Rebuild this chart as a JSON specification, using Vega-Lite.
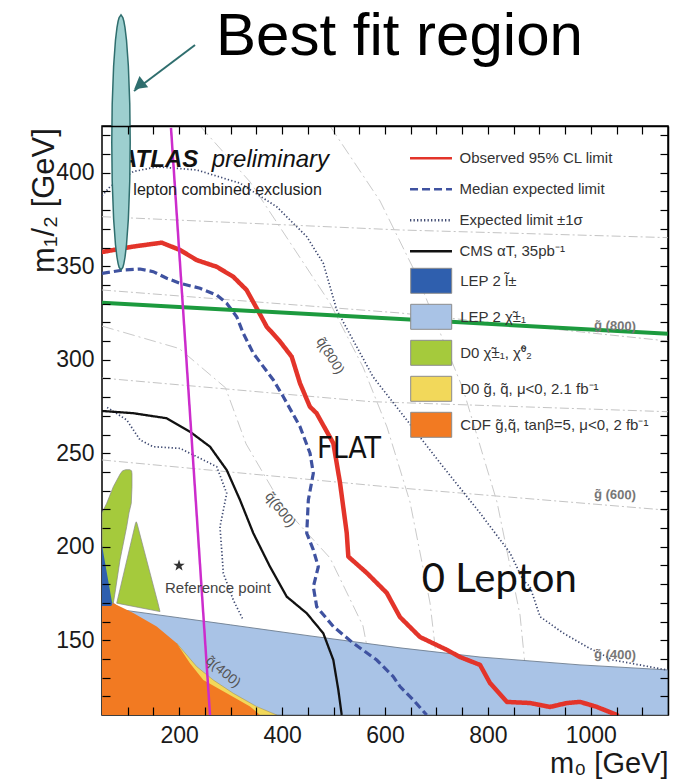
{
  "$schema": "https://vega.github.io/schema/vega-lite/v6.json",
  "width": 566,
  "height": 589,
  "autosize": {"type": "none"},
  "padding": {"left": 102, "top": 126, "right": 13, "bottom": 66},
  "background": "white",
  "config": {
    "view": {"stroke": "#000", "strokeWidth": 1.5, "fill": "white"},
    "axis": {"grid": false},
    "font": "Liberation Sans"
  },
  "resolve": {"axis": {"x": "independent", "y": "independent"}},
  "datasets": {
    "gcont": [
      {"c": "g1000", "m0": 50, "m12": 376.5}, {"c": "g1000", "m0": 629, "m12": 369.4}, {"c": "g1000", "m0": 1150, "m12": 365.3},
      {"c": "g800", "m0": 50, "m12": 337.3}, {"c": "g800", "m0": 629, "m12": 325}, {"c": "g800", "m0": 1150, "m12": 310},
      {"c": "g700", "m0": 50, "m12": 290.2}, {"c": "g700", "m0": 571, "m12": 277.6}, {"c": "g700", "m0": 1150, "m12": 272.2},
      {"c": "g600", "m0": 50, "m12": 246.4}, {"c": "g600", "m0": 629, "m12": 231.4}, {"c": "g600", "m0": 1150, "m12": 219.5}
    ],
    "qcont": [
      {"c": "q800", "i": 0, "m0": 240.5, "m12": 425}, {"c": "q800", "i": 1, "m0": 337.7, "m12": 395.1}, {"c": "q800", "i": 2, "m0": 493.1, "m12": 330.3}, {"c": "q800", "i": 3, "m0": 557.3, "m12": 296.1}, {"c": "q800", "i": 4, "m0": 603.9, "m12": 264}, {"c": "q800", "i": 5, "m0": 648.6, "m12": 223.9}, {"c": "q800", "i": 6, "m0": 687.5, "m12": 169.9}, {"c": "q800", "i": 7, "m0": 712.8, "m12": 110},
      {"c": "q600", "i": 0, "m0": 50, "m12": 318}, {"c": "q600", "i": 1, "m0": 200, "m12": 306}, {"c": "q600", "i": 2, "m0": 290, "m12": 285}, {"c": "q600", "i": 3, "m0": 330, "m12": 255}, {"c": "q600", "i": 4, "m0": 400, "m12": 222}, {"c": "q600", "i": 5, "m0": 493.1, "m12": 194}, {"c": "q600", "i": 6, "m0": 557.3, "m12": 157.6}, {"c": "q600", "i": 7, "m0": 590.3, "m12": 110},
      {"c": "q1000", "i": 0, "m0": 493.1, "m12": 425}, {"c": "q1000", "i": 1, "m0": 590.3, "m12": 384.9}, {"c": "q1000", "i": 2, "m0": 662.2, "m12": 344.8}, {"c": "q1000", "i": 3, "m0": 751.6, "m12": 284.4}, {"c": "q1000", "i": 4, "m0": 817.7, "m12": 223.9}, {"c": "q1000", "i": 5, "m0": 862.4, "m12": 163.5}, {"c": "q1000", "i": 6, "m0": 881.9, "m12": 110}
    ],
    "lepchi": [
      {"region": "LEP 2 χ̃±₁", "m0": 72, "m12": 169.8}, {"region": "LEP 2 χ̃±₁", "m0": 88.9, "m12": 166.2}, {"region": "LEP 2 χ̃±₁", "m0": 200, "m12": 162.0}, {"region": "LEP 2 χ̃±₁", "m0": 300, "m12": 158.2}, {"region": "LEP 2 χ̃±₁", "m0": 454.3, "m12": 152.3}, {"region": "LEP 2 χ̃±₁", "m0": 629.2, "m12": 145.9}, {"region": "LEP 2 χ̃±₁", "m0": 784.7, "m12": 141}, {"region": "LEP 2 χ̃±₁", "m0": 979, "m12": 136.8}, {"region": "LEP 2 χ̃±₁", "m0": 1150, "m12": 134.1}
    ],
    "d0chi": [
      {"region": "D0 χ̃±₁, χ̃⁰₂", "lobe": "a", "m12": 169.8, "xl": 50, "xr": 72},
      {"region": "D0 χ̃±₁, χ̃⁰₂", "lobe": "a", "m12": 175.3, "xl": 50, "xr": 75.3},
      {"region": "D0 χ̃±₁, χ̃⁰₂", "lobe": "a", "m12": 192.9, "xl": 50, "xr": 85},
      {"region": "D0 χ̃±₁, χ̃⁰₂", "lobe": "a", "m12": 210.7, "xl": 50, "xr": 98},
      {"region": "D0 χ̃±₁, χ̃⁰₂", "lobe": "a", "m12": 218.1, "xl": 50, "xr": 102.5},
      {"region": "D0 χ̃±₁, χ̃⁰₂", "lobe": "a", "m12": 223.2, "xl": 59.1, "xr": 106.9},
      {"region": "D0 χ̃±₁, χ̃⁰₂", "lobe": "a", "m12": 232.1, "xl": 72, "xr": 108.3},
      {"region": "D0 χ̃±₁, χ̃⁰₂", "lobe": "a", "m12": 239.0, "xl": 85.5, "xr": 108.3},
      {"region": "D0 χ̃±₁, χ̃⁰₂", "lobe": "a", "m12": 240.6, "xl": 90, "xr": 107.5},
      {"region": "D0 χ̃±₁, χ̃⁰₂", "lobe": "a", "m12": 241.2, "xl": 96, "xr": 104},
      {"region": "D0 χ̃±₁, χ̃⁰₂", "lobe": "b", "m12": 165.3, "xl": 162.7, "xr": 162.7},
      {"region": "D0 χ̃±₁, χ̃⁰₂", "lobe": "b", "m12": 167.5, "xl": 121.6, "xr": 160.8},
      {"region": "D0 χ̃±₁, χ̃⁰₂", "lobe": "b", "m12": 169.8, "xl": 78.6, "xr": 158.8},
      {"region": "D0 χ̃±₁, χ̃⁰₂", "lobe": "b", "m12": 186, "xl": 92.4, "xr": 143.3},
      {"region": "D0 χ̃±₁, χ̃⁰₂", "lobe": "b", "m12": 212.5, "xl": 115.1, "xr": 118},
      {"region": "D0 χ̃±₁, χ̃⁰₂", "lobe": "b", "m12": 213.3, "xl": 116.5, "xr": 116.6}
    ],
    "d0sq": [
      {"region": "D0 g̃, q̃, μ<0, 2.1 fb⁻¹", "m0": 195.2, "m12": 148.4}, {"region": "D0 g̃, q̃, μ<0, 2.1 fb⁻¹", "m0": 234, "m12": 135.9}, {"region": "D0 g̃, q̃, μ<0, 2.1 fb⁻¹", "m0": 266.3, "m12": 128.7}, {"region": "D0 g̃, q̃, μ<0, 2.1 fb⁻¹", "m0": 305.2, "m12": 121.6}, {"region": "D0 g̃, q̃, μ<0, 2.1 fb⁻¹", "m0": 350.7, "m12": 114.5}, {"region": "D0 g̃, q̃, μ<0, 2.1 fb⁻¹", "m0": 389.6, "m12": 110}
    ],
    "cdf": [
      {"region": "CDF g̃,q̃, tanβ=5, μ<0, 2 fb⁻¹", "m0": 50, "m12": 168.3}, {"region": "CDF g̃,q̃, tanβ=5, μ<0, 2 fb⁻¹", "m0": 72, "m12": 169.8}, {"region": "CDF g̃,q̃, tanβ=5, μ<0, 2 fb⁻¹", "m0": 110.8, "m12": 164.6}, {"region": "CDF g̃,q̃, tanβ=5, μ<0, 2 fb⁻¹", "m0": 156.3, "m12": 157.3}, {"region": "CDF g̃,q̃, tanβ=5, μ<0, 2 fb⁻¹", "m0": 195.2, "m12": 148.4}, {"region": "CDF g̃,q̃, tanβ=5, μ<0, 2 fb⁻¹", "m0": 221, "m12": 137.7}, {"region": "CDF g̃,q̃, tanβ=5, μ<0, 2 fb⁻¹", "m0": 246.9, "m12": 128.7}, {"region": "CDF g̃,q̃, tanβ=5, μ<0, 2 fb⁻¹", "m0": 292.4, "m12": 121.6}, {"region": "CDF g̃,q̃, tanβ=5, μ<0, 2 fb⁻¹", "m0": 337.7, "m12": 114.5}, {"region": "CDF g̃,q̃, tanβ=5, μ<0, 2 fb⁻¹", "m0": 357.1, "m12": 110}
    ],
    "lepsl": [
      {"region": "LEP 2 l̃±", "m12": 168.3, "xl": 50, "xr": 68},
      {"region": "LEP 2 l̃±", "m12": 169.5, "xl": 50, "xr": 70},
      {"region": "LEP 2 l̃±", "m12": 187.6, "xl": 50, "xr": 58.4},
      {"region": "LEP 2 l̃±", "m12": 200.9, "xl": 50, "xr": 50}
    ],
    "limits": [
      {"curve": "Observed 95% CL limit", "part": "a", "i": 0, "m0": 50, "m12": 357.6},
      {"curve": "Observed 95% CL limit", "part": "a", "i": 1, "m0": 110.3, "m12": 360.5},
      {"curve": "Observed 95% CL limit", "part": "a", "i": 2, "m0": 166, "m12": 362.6},
      {"curve": "Observed 95% CL limit", "part": "a", "i": 3, "m0": 201.6, "m12": 358.7},
      {"curve": "Observed 95% CL limit", "part": "a", "i": 4, "m0": 234, "m12": 353.3},
      {"curve": "Observed 95% CL limit", "part": "a", "i": 5, "m0": 273, "m12": 349.7},
      {"curve": "Observed 95% CL limit", "part": "a", "i": 6, "m0": 305, "m12": 344.4},
      {"curve": "Observed 95% CL limit", "part": "a", "i": 7, "m0": 331, "m12": 337.3},
      {"curve": "Observed 95% CL limit", "part": "a", "i": 8, "m0": 350.7, "m12": 327.5},
      {"curve": "Observed 95% CL limit", "part": "a", "i": 9, "m0": 370, "m12": 317.7},
      {"curve": "Observed 95% CL limit", "part": "a", "i": 10, "m0": 396, "m12": 309.7},
      {"curve": "Observed 95% CL limit", "part": "a", "i": 11, "m0": 418.7, "m12": 301.6},
      {"curve": "Observed 95% CL limit", "part": "a", "i": 12, "m0": 434.8, "m12": 287.4},
      {"curve": "Observed 95% CL limit", "part": "a", "i": 13, "m0": 454, "m12": 274.9},
      {"curve": "Observed 95% CL limit", "part": "a", "i": 14, "m0": 467, "m12": 271.4},
      {"curve": "Observed 95% CL limit", "part": "a", "i": 15, "m0": 499.6, "m12": 255.3},
      {"curve": "Observed 95% CL limit", "part": "a", "i": 16, "m0": 512.6, "m12": 234.1},
      {"curve": "Observed 95% CL limit", "part": "a", "i": 17, "m0": 525.6, "m12": 207.4},
      {"curve": "Observed 95% CL limit", "part": "a", "i": 18, "m0": 528.7, "m12": 194.7},
      {"curve": "Observed 95% CL limit", "part": "a", "i": 19, "m0": 564.5, "m12": 186},
      {"curve": "Observed 95% CL limit", "part": "a", "i": 20, "m0": 603.4, "m12": 175.3},
      {"curve": "Observed 95% CL limit", "part": "a", "i": 21, "m0": 629, "m12": 162.4},
      {"curve": "Observed 95% CL limit", "part": "a", "i": 22, "m0": 668, "m12": 151.7},
      {"curve": "Observed 95% CL limit", "part": "a", "i": 23, "m0": 720.5, "m12": 144.8},
      {"curve": "Observed 95% CL limit", "part": "a", "i": 24, "m0": 745.8, "m12": 141},
      {"curve": "Observed 95% CL limit", "part": "a", "i": 25, "m0": 784.7, "m12": 136.8},
      {"curve": "Observed 95% CL limit", "part": "a", "i": 26, "m0": 804, "m12": 127.1},
      {"curve": "Observed 95% CL limit", "part": "a", "i": 27, "m0": 837, "m12": 117},
      {"curve": "Observed 95% CL limit", "part": "a", "i": 28, "m0": 882, "m12": 116.4},
      {"curve": "Observed 95% CL limit", "part": "a", "i": 29, "m0": 920.7, "m12": 114.3},
      {"curve": "Observed 95% CL limit", "part": "a", "i": 30, "m0": 953.8, "m12": 116.4},
      {"curve": "Observed 95% CL limit", "part": "a", "i": 31, "m0": 979, "m12": 117},
      {"curve": "Observed 95% CL limit", "part": "a", "i": 32, "m0": 1012, "m12": 114.3},
      {"curve": "Observed 95% CL limit", "part": "a", "i": 33, "m0": 1051, "m12": 110},
      {"curve": "Median expected limit", "part": "a", "i": 0, "m0": 50, "m12": 346.2},
      {"curve": "Median expected limit", "part": "a", "i": 1, "m0": 91.4, "m12": 348},
      {"curve": "Median expected limit", "part": "a", "i": 2, "m0": 123.9, "m12": 348.5},
      {"curve": "Median expected limit", "part": "a", "i": 3, "m0": 149.7, "m12": 347.1},
      {"curve": "Median expected limit", "part": "a", "i": 4, "m0": 175.8, "m12": 343.6},
      {"curve": "Median expected limit", "part": "a", "i": 5, "m0": 201.6, "m12": 340.9},
      {"curve": "Median expected limit", "part": "a", "i": 6, "m0": 240.5, "m12": 338.2},
      {"curve": "Median expected limit", "part": "a", "i": 7, "m0": 272.9, "m12": 334.6},
      {"curve": "Median expected limit", "part": "a", "i": 8, "m0": 292.4, "m12": 330.2},
      {"curve": "Median expected limit", "part": "a", "i": 9, "m0": 311.8, "m12": 323},
      {"curve": "Median expected limit", "part": "a", "i": 10, "m0": 324.6, "m12": 314.1},
      {"curve": "Median expected limit", "part": "a", "i": 11, "m0": 344, "m12": 303.5},
      {"curve": "Median expected limit", "part": "a", "i": 12, "m0": 363.5, "m12": 296.3},
      {"curve": "Median expected limit", "part": "a", "i": 13, "m0": 383, "m12": 289.2},
      {"curve": "Median expected limit", "part": "a", "i": 14, "m0": 402.4, "m12": 280.2},
      {"curve": "Median expected limit", "part": "a", "i": 15, "m0": 434.8, "m12": 264.2},
      {"curve": "Median expected limit", "part": "a", "i": 16, "m0": 454.3, "m12": 250},
      {"curve": "Median expected limit", "part": "a", "i": 17, "m0": 460.7, "m12": 239.3},
      {"curve": "Median expected limit", "part": "a", "i": 18, "m0": 451, "m12": 225},
      {"curve": "Median expected limit", "part": "a", "i": 19, "m0": 447.9, "m12": 207.2},
      {"curve": "Median expected limit", "part": "a", "i": 20, "m0": 460.7, "m12": 198.3},
      {"curve": "Median expected limit", "part": "a", "i": 21, "m0": 470.4, "m12": 189.3},
      {"curve": "Median expected limit", "part": "a", "i": 22, "m0": 460.7, "m12": 178.6},
      {"curve": "Median expected limit", "part": "a", "i": 23, "m0": 467.3, "m12": 167.9},
      {"curve": "Median expected limit", "part": "a", "i": 24, "m0": 499.6, "m12": 157.3},
      {"curve": "Median expected limit", "part": "a", "i": 25, "m0": 538.4, "m12": 148.4},
      {"curve": "Median expected limit", "part": "a", "i": 26, "m0": 584, "m12": 139.4},
      {"curve": "Median expected limit", "part": "a", "i": 27, "m0": 616.2, "m12": 130.5},
      {"curve": "Median expected limit", "part": "a", "i": 28, "m0": 629.2, "m12": 125.2},
      {"curve": "Median expected limit", "part": "a", "i": 29, "m0": 655, "m12": 118.1},
      {"curve": "Median expected limit", "part": "a", "i": 30, "m0": 681, "m12": 110},
      {"curve": "Expected limit ±1σ", "part": "up", "i": 0, "m0": 50, "m12": 387.6},
      {"curve": "Expected limit ±1σ", "part": "up", "i": 1, "m0": 65.5, "m12": 392.5},
      {"curve": "Expected limit ±1σ", "part": "up", "i": 2, "m0": 110.8, "m12": 400.6},
      {"curve": "Expected limit ±1σ", "part": "up", "i": 3, "m0": 156.3, "m12": 403.2},
      {"curve": "Expected limit ±1σ", "part": "up", "i": 4, "m0": 234, "m12": 401.5},
      {"curve": "Expected limit ±1σ", "part": "up", "i": 5, "m0": 318.2, "m12": 394.4},
      {"curve": "Expected limit ±1σ", "part": "up", "i": 6, "m0": 389.6, "m12": 381.8},
      {"curve": "Expected limit ±1σ", "part": "up", "i": 7, "m0": 447.9, "m12": 365.8},
      {"curve": "Expected limit ±1σ", "part": "up", "i": 8, "m0": 480.1, "m12": 351.6},
      {"curve": "Expected limit ±1σ", "part": "up", "i": 9, "m0": 506.2, "m12": 326.6},
      {"curve": "Expected limit ±1σ", "part": "up", "i": 10, "m0": 576.7, "m12": 290.9},
      {"curve": "Expected limit ±1σ", "part": "up", "i": 11, "m0": 712.8, "m12": 242.8},
      {"curve": "Expected limit ±1σ", "part": "up", "i": 12, "m0": 784.7, "m12": 218},
      {"curve": "Expected limit ±1σ", "part": "up", "i": 13, "m0": 843, "m12": 196.7},
      {"curve": "Expected limit ±1σ", "part": "up", "i": 14, "m0": 868.3, "m12": 182.2},
      {"curve": "Expected limit ±1σ", "part": "up", "i": 15, "m0": 881.9, "m12": 178.6},
      {"curve": "Expected limit ±1σ", "part": "up", "i": 16, "m0": 901.3, "m12": 162.6},
      {"curve": "Expected limit ±1σ", "part": "up", "i": 17, "m0": 946, "m12": 153.9},
      {"curve": "Expected limit ±1σ", "part": "up", "i": 18, "m0": 992.7, "m12": 146.4},
      {"curve": "Expected limit ±1σ", "part": "up", "i": 19, "m0": 1043.2, "m12": 139.4},
      {"curve": "Expected limit ±1σ", "part": "up", "i": 20, "m0": 1148, "m12": 134.1},
      {"curve": "Expected limit ±1σ", "part": "lo", "i": 0, "m0": 60, "m12": 274.5},
      {"curve": "Expected limit ±1σ", "part": "lo", "i": 1, "m0": 98, "m12": 267.8},
      {"curve": "Expected limit ±1σ", "part": "lo", "i": 2, "m0": 123.9, "m12": 257.1},
      {"curve": "Expected limit ±1σ", "part": "lo", "i": 3, "m0": 149.1, "m12": 253.5},
      {"curve": "Expected limit ±1σ", "part": "lo", "i": 4, "m0": 201.6, "m12": 252.6},
      {"curve": "Expected limit ±1σ", "part": "lo", "i": 5, "m0": 240.5, "m12": 247.3},
      {"curve": "Expected limit ±1σ", "part": "lo", "i": 6, "m0": 272.9, "m12": 242.8},
      {"curve": "Expected limit ±1σ", "part": "lo", "i": 7, "m0": 292.4, "m12": 228.6},
      {"curve": "Expected limit ±1σ", "part": "lo", "i": 8, "m0": 279.3, "m12": 210.7},
      {"curve": "Expected limit ±1σ", "part": "lo", "i": 9, "m0": 285.8, "m12": 185.8},
      {"curve": "Expected limit ±1σ", "part": "lo", "i": 10, "m0": 305.2, "m12": 171.5},
      {"curve": "Expected limit ±1σ", "part": "lo", "i": 11, "m0": 324.6, "m12": 160.7},
      {"curve": "CMS αT, 35pb⁻¹", "part": "a", "i": 0, "m0": 50, "m12": 272.6},
      {"curve": "CMS αT, 35pb⁻¹", "part": "a", "i": 1, "m0": 110.8, "m12": 271.4},
      {"curve": "CMS αT, 35pb⁻¹", "part": "a", "i": 2, "m0": 175.8, "m12": 268.7},
      {"curve": "CMS αT, 35pb⁻¹", "part": "a", "i": 3, "m0": 221, "m12": 261.5},
      {"curve": "CMS αT, 35pb⁻¹", "part": "a", "i": 4, "m0": 259.9, "m12": 253.5},
      {"curve": "CMS αT, 35pb⁻¹", "part": "a", "i": 5, "m0": 292.4, "m12": 241},
      {"curve": "CMS αT, 35pb⁻¹", "part": "a", "i": 6, "m0": 318.2, "m12": 225},
      {"curve": "CMS αT, 35pb⁻¹", "part": "a", "i": 7, "m0": 344.1, "m12": 207.2},
      {"curve": "CMS αT, 35pb⁻¹", "part": "a", "i": 8, "m0": 376.5, "m12": 189.3},
      {"curve": "CMS αT, 35pb⁻¹", "part": "a", "i": 9, "m0": 409, "m12": 173.3},
      {"curve": "CMS αT, 35pb⁻¹", "part": "a", "i": 10, "m0": 447.9, "m12": 164.4},
      {"curve": "CMS αT, 35pb⁻¹", "part": "a", "i": 11, "m0": 480.1, "m12": 153.7},
      {"curve": "CMS αT, 35pb⁻¹", "part": "a", "i": 12, "m0": 499.6, "m12": 139.4},
      {"curve": "CMS αT, 35pb⁻¹", "part": "a", "i": 13, "m0": 509.3, "m12": 123.4},
      {"curve": "CMS αT, 35pb⁻¹", "part": "a", "i": 14, "m0": 515.9, "m12": 110}
    ],
    "greenline": [{"m0": 50, "m12": 330.5}, {"m0": 1150, "m12": 313.9}],
    "magline": [{"m0": 184.1, "m12": 424}, {"m0": 259.9, "m12": 110}],
    "ellipse": [
      {"m12": 484.4, "xl": 86.9, "xr": 86.9}, {"m12": 483.0, "xl": 83.34, "xr": 90.46}, {"m12": 481.0, "xl": 81.31, "xr": 92.49}, {"m12": 477.6, "xl": 79.1, "xr": 94.7}, {"m12": 470.8, "xl": 76.16, "xr": 97.64}, {"m12": 457.1, "xl": 72.58, "xr": 101.22}, {"m12": 436.7, "xl": 69.82, "xr": 103.98}, {"m12": 416.2, "xl": 69.0, "xr": 104.8}, {"m12": 395.7, "xl": 69.82, "xr": 103.98}, {"m12": 375.3, "xl": 72.58, "xr": 101.22}, {"m12": 361.6, "xl": 76.16, "xr": 97.64}, {"m12": 354.8, "xl": 79.1, "xr": 94.7}, {"m12": 351.4, "xl": 81.31, "xr": 92.49}, {"m12": 349.4, "xl": 83.34, "xr": 90.46}, {"m12": 348.0, "xl": 86.9, "xr": 86.9}
    ],
    "arrow": [{"i": 0, "m0": 230.8, "m12": 468.3}, {"i": 1, "m0": 112.2, "m12": 443.7}],
    "arrowhead": [{"m0": 121.9, "m12": 446.7}],
    "tBig": [{"t": "Best fit region", "m0": 271.6, "m12": 463.0}],
    "tAtlas": [{"t": "ATLAS", "m0": 85, "m12": 403.2}],
    "tPrelim": [{"t": "preliminary", "m0": 263.2, "m12": 403.2}],
    "tSub": [{"t": "0 lepton combined exclusion", "m0": 85, "m12": 388.1}],
    "tFlat": [{"t": "FLAT", "m0": 530.1, "m12": 247.2}],
    "t0L": [{"t": "0 Lepton", "m0": 671.4, "m12": 176.0}],
    "tRef": [{"t": "Reference point", "m0": 172.4, "m12": 175.3}],
    "star": [{"m0": 199.7, "m12": 189.9}],
    "q800": [{"t": "q̃(800)", "m0": 493.1, "m12": 302.0}],
    "q600": [{"t": "q̃(600)", "m0": 396, "m12": 219.7}],
    "q400": [{"t": "q̃(400)", "m0": 285.2, "m12": 133}],
    "glab": [{"t": "g̃ (800)", "m0": 1047.1, "m12": 318.0}, {"t": "g̃ (600)", "m0": 1047.1, "m12": 227.7}, {"t": "g̃ (400)", "m0": 1047.1, "m12": 142.1}]
  },
  "layer": [
    {
      "data": {"name": "gcont"},
      "mark": {"type": "line", "stroke": "#c4c4c4", "strokeWidth": 1, "strokeDash": [9, 3, 2, 3], "clip": true},
      "encoding": {
        "x": {"field": "m0", "type": "quantitative", "scale": {"domain": [50, 1150], "nice": false, "zero": false},
          "axis": {"orient": "bottom", "values": [100, 150, 200, 250, 300, 350, 400, 450, 500, 550, 600, 650, 700, 750, 800, 850, 900, 950, 1000, 1050, 1100], "format": "d", "labelExpr": "datum.value % 200 == 0 ? datum.label : ''", "ticks": true, "tickSize": -8, "tickColor": "#000", "tickWidth": 1.2, "domain": false, "grid": false, "labelFont": "Liberation Sans", "labelFontSize": 23, "labelColor": "#1a1a1a", "labelPadding": 17, "labelFlush": false, "labelOverlap": false, "zindex": 2,
            "encode": {"ticks": {"update": {"y2": {"signal": "datum.value % 200 == 0 ? -17 : -8"}}}},
            "title": "m₀ [GeV]", "titleFont": "Liberation Sans", "titleFontSize": 29, "titleFontWeight": "normal", "titleColor": "#1a1a1a", "titleX": 566, "titleY": 57, "titleAlign": "right", "titleBaseline": "alphabetic"}},
        "y": {"field": "m12", "type": "quantitative", "scale": {"domain": [110, 425], "nice": false, "zero": false},
          "axis": {"orient": "left", "values": [120, 130, 140, 150, 160, 170, 180, 190, 200, 210, 220, 230, 240, 250, 260, 270, 280, 290, 300, 310, 320, 330, 340, 350, 360, 370, 380, 390, 400, 410, 420], "format": "d", "labelExpr": "datum.value % 50 == 0 ? datum.label : ''", "ticks": true, "tickSize": -8, "tickColor": "#000", "tickWidth": 1.2, "domain": false, "grid": false, "labelFont": "Liberation Sans", "labelFontSize": 23, "labelColor": "#1a1a1a", "labelPadding": 16, "labelFlush": false, "labelOverlap": false, "zindex": 2,
            "encode": {"ticks": {"update": {"x2": {"signal": "datum.value % 50 == 0 ? 15 : 8"}}}},
            "title": "m₁/₂ [GeV]", "titleFont": "Liberation Sans", "titleFontSize": 31, "titleFontWeight": "normal", "titleColor": "#1a1a1a", "titleX": -49, "titleY": 74, "titleAngle": -90, "titleAlign": "center", "titleBaseline": "alphabetic"}},
        "detail": {"field": "c"}
      }
    },
    {
      "data": {"name": "qcont"},
      "mark": {"type": "line", "stroke": "#cacaca", "strokeWidth": 1, "strokeDash": [12, 4, 2, 4], "clip": true},
      "encoding": {
        "x": {"field": "m0", "type": "quantitative", "scale": {"domain": [50, 1150], "nice": false, "zero": false},
          "axis": {"orient": "top", "values": [100, 150, 200, 250, 300, 350, 400, 450, 500, 550, 600, 650, 700, 750, 800, 850, 900, 950, 1000, 1050, 1100], "labels": false, "domain": true, "domainColor": "#000", "domainWidth": 1.5, "grid": false, "ticks": true, "tickSize": -8, "tickColor": "#000", "tickWidth": 1.2, "title": null, "zindex": 2,
            "encode": {"ticks": {"update": {"y2": {"signal": "datum.value % 200 == 0 ? 17 : 8"}}}}}},
        "y": {"field": "m12", "type": "quantitative", "scale": {"domain": [110, 425], "nice": false, "zero": false},
          "axis": {"orient": "right", "values": [120, 130, 140, 150, 160, 170, 180, 190, 200, 210, 220, 230, 240, 250, 260, 270, 280, 290, 300, 310, 320, 330, 340, 350, 360, 370, 380, 390, 400, 410, 420], "labels": false, "domain": true, "domainColor": "#000", "domainWidth": 1.5, "grid": false, "ticks": true, "tickSize": -8, "tickColor": "#000", "tickWidth": 1.2, "title": null, "zindex": 2,
            "encode": {"ticks": {"update": {"x2": {"signal": "datum.value % 50 == 0 ? -15 : -8"}}}}}},
        "detail": {"field": "c"},
        "order": {"field": "i"}
      }
    },
    {
      "data": {"name": "lepchi"},
      "mark": {"type": "area", "stroke": "#6e7e90", "strokeWidth": 0.9, "opacity": 1, "clip": true},
      "encoding": {
        "x": {"field": "m0", "type": "quantitative", "scale": {"domain": [50, 1150], "nice": false, "zero": false}, "axis": null},
        "y": {"field": "m12", "type": "quantitative", "scale": {"domain": [110, 425], "nice": false, "zero": false}, "axis": null},
        "y2": {"datum": 110},
        "fill": {"field": "region", "type": "nominal",
          "scale": {"domain": ["LEP 2 l̃±", "LEP 2 χ̃±₁", "D0 χ̃±₁, χ̃⁰₂", "D0 g̃, q̃, μ<0, 2.1 fb⁻¹", "CDF g̃,q̃, tanβ=5, μ<0, 2 fb⁻¹"], "range": ["#2f5fae", "#a9c3e6", "#a5ca3c", "#f2d85a", "#f27a22"]},
          "legend": {"orient": "none", "direction": "vertical", "legendX": 308.7, "legendY": 141.8, "title": null, "padding": 0, "symbolType": "M-1.64,-1H1.64V1H-1.64Z", "symbolSize": 625, "symbolOffset": 7.5, "labelOffset": 16, "rowPadding": 6, "labelFont": "Liberation Sans", "labelFontSize": 15, "labelColor": "#333", "labelLimit": 320, "symbolStrokeColor": "#8c8c8c", "symbolStrokeWidth": 1, "symbolOpacity": 1,
            "encode": {"symbols": {"update": {"stroke": {"value": "#8c8c8c"}, "strokeWidth": {"value": 1}, "opacity": {"value": 1}}}}}}
      }
    },
    {
      "data": {"name": "d0chi"},
      "mark": {"type": "area", "orient": "horizontal", "stroke": "#8a8a8a", "strokeWidth": 0.7, "opacity": 1, "clip": true},
      "encoding": {
        "y": {"field": "m12", "type": "quantitative", "scale": {"domain": [110, 425], "nice": false, "zero": false}, "axis": null},
        "x": {"field": "xl", "type": "quantitative", "scale": {"domain": [50, 1150], "nice": false, "zero": false}, "axis": null},
        "x2": {"field": "xr"},
        "detail": {"field": "lobe"},
        "fill": {"field": "region", "type": "nominal", "scale": {"domain": ["LEP 2 l̃±", "LEP 2 χ̃±₁", "D0 χ̃±₁, χ̃⁰₂", "D0 g̃, q̃, μ<0, 2.1 fb⁻¹", "CDF g̃,q̃, tanβ=5, μ<0, 2 fb⁻¹"], "range": ["#2f5fae", "#a9c3e6", "#a5ca3c", "#f2d85a", "#f27a22"]}}
      }
    },
    {
      "data": {"name": "d0sq"},
      "mark": {"type": "area", "stroke": "#9a8a50", "strokeWidth": 0.5, "opacity": 1, "clip": true},
      "encoding": {
        "x": {"field": "m0", "type": "quantitative", "scale": {"domain": [50, 1150], "nice": false, "zero": false}, "axis": null},
        "y": {"field": "m12", "type": "quantitative", "scale": {"domain": [110, 425], "nice": false, "zero": false}, "axis": null},
        "y2": {"datum": 110},
        "fill": {"field": "region", "type": "nominal", "scale": {"domain": ["LEP 2 l̃±", "LEP 2 χ̃±₁", "D0 χ̃±₁, χ̃⁰₂", "D0 g̃, q̃, μ<0, 2.1 fb⁻¹", "CDF g̃,q̃, tanβ=5, μ<0, 2 fb⁻¹"], "range": ["#2f5fae", "#a9c3e6", "#a5ca3c", "#f2d85a", "#f27a22"]}}
      }
    },
    {
      "data": {"name": "cdf"},
      "mark": {"type": "area", "opacity": 1, "clip": true},
      "encoding": {
        "x": {"field": "m0", "type": "quantitative", "scale": {"domain": [50, 1150], "nice": false, "zero": false}, "axis": null},
        "y": {"field": "m12", "type": "quantitative", "scale": {"domain": [110, 425], "nice": false, "zero": false}, "axis": null},
        "y2": {"datum": 110},
        "fill": {"field": "region", "type": "nominal", "scale": {"domain": ["LEP 2 l̃±", "LEP 2 χ̃±₁", "D0 χ̃±₁, χ̃⁰₂", "D0 g̃, q̃, μ<0, 2.1 fb⁻¹", "CDF g̃,q̃, tanβ=5, μ<0, 2 fb⁻¹"], "range": ["#2f5fae", "#a9c3e6", "#a5ca3c", "#f2d85a", "#f27a22"]}}
      }
    },
    {
      "data": {"name": "lepsl"},
      "mark": {"type": "area", "orient": "horizontal", "opacity": 1, "clip": true},
      "encoding": {
        "y": {"field": "m12", "type": "quantitative", "scale": {"domain": [110, 425], "nice": false, "zero": false}, "axis": null},
        "x": {"field": "xl", "type": "quantitative", "scale": {"domain": [50, 1150], "nice": false, "zero": false}, "axis": null},
        "x2": {"field": "xr"},
        "fill": {"field": "region", "type": "nominal", "scale": {"domain": ["LEP 2 l̃±", "LEP 2 χ̃±₁", "D0 χ̃±₁, χ̃⁰₂", "D0 g̃, q̃, μ<0, 2.1 fb⁻¹", "CDF g̃,q̃, tanβ=5, μ<0, 2 fb⁻¹"], "range": ["#2f5fae", "#a9c3e6", "#a5ca3c", "#f2d85a", "#f27a22"]}}
      }
    },
    {
      "data": {"name": "limits"},
      "transform": [{"filter": "datum.curve == 'Expected limit ±1σ'"}],
      "mark": {"type": "line", "strokeWidth": 1.7, "clip": true},
      "encoding": {
        "x": {"field": "m0", "type": "quantitative", "scale": {"domain": [50, 1150], "nice": false, "zero": false}, "axis": null},
        "y": {"field": "m12", "type": "quantitative", "scale": {"domain": [110, 425], "nice": false, "zero": false}, "axis": null},
        "order": {"field": "i"},
        "detail": {"field": "part"},
        "stroke": {"field": "curve", "type": "nominal",
          "scale": {"domain": ["Observed 95% CL limit", "Median expected limit", "Expected limit ±1σ", "CMS αT, 35pb⁻¹"], "range": ["#e3342a", "#3f52a0", "#3d4870", "#111111"]},
          "legend": {"orient": "none", "direction": "vertical", "legendX": 308, "legendY": 24.8, "title": null, "padding": 0, "symbolType": "M-4,0H4", "symbolSize": 110, "symbolOffset": 13.5, "labelOffset": 21, "rowPadding": 15, "labelFont": "Liberation Sans", "labelFontSize": 15, "labelColor": "#333", "labelLimit": 320, "symbolStrokeWidth": 2.5,
            "encode": {"symbols": {"update": {"strokeWidth": {"value": 2.5}}}}}},
        "strokeDash": {"field": "curve", "type": "nominal",
          "scale": {"domain": ["Observed 95% CL limit", "Median expected limit", "Expected limit ±1σ", "CMS αT, 35pb⁻¹"], "range": [[1, 0], [8, 4], [1.3, 2.2], [1, 0]]}}
      }
    },
    {
      "data": {"name": "limits"},
      "transform": [{"filter": "datum.curve == 'CMS αT, 35pb⁻¹'"}],
      "mark": {"type": "line", "strokeWidth": 2.3, "clip": true},
      "encoding": {
        "x": {"field": "m0", "type": "quantitative", "scale": {"domain": [50, 1150], "nice": false, "zero": false}, "axis": null},
        "y": {"field": "m12", "type": "quantitative", "scale": {"domain": [110, 425], "nice": false, "zero": false}, "axis": null},
        "order": {"field": "i"},
        "stroke": {"field": "curve", "type": "nominal", "scale": {"domain": ["Observed 95% CL limit", "Median expected limit", "Expected limit ±1σ", "CMS αT, 35pb⁻¹"], "range": ["#e3342a", "#3f52a0", "#3d4870", "#111111"]}},
        "strokeDash": {"field": "curve", "type": "nominal", "scale": {"domain": ["Observed 95% CL limit", "Median expected limit", "Expected limit ±1σ", "CMS αT, 35pb⁻¹"], "range": [[1, 0], [8, 4], [1.3, 2.2], [1, 0]]}}
      }
    },
    {
      "data": {"name": "limits"},
      "transform": [{"filter": "datum.curve == 'Median expected limit'"}],
      "mark": {"type": "line", "strokeWidth": 3.2, "clip": true},
      "encoding": {
        "x": {"field": "m0", "type": "quantitative", "scale": {"domain": [50, 1150], "nice": false, "zero": false}, "axis": null},
        "y": {"field": "m12", "type": "quantitative", "scale": {"domain": [110, 425], "nice": false, "zero": false}, "axis": null},
        "order": {"field": "i"},
        "stroke": {"field": "curve", "type": "nominal", "scale": {"domain": ["Observed 95% CL limit", "Median expected limit", "Expected limit ±1σ", "CMS αT, 35pb⁻¹"], "range": ["#e3342a", "#3f52a0", "#3d4870", "#111111"]}},
        "strokeDash": {"field": "curve", "type": "nominal", "scale": {"domain": ["Observed 95% CL limit", "Median expected limit", "Expected limit ±1σ", "CMS αT, 35pb⁻¹"], "range": [[1, 0], [8, 4], [1.3, 2.2], [1, 0]]}}
      }
    },
    {
      "data": {"name": "limits"},
      "transform": [{"filter": "datum.curve == 'Observed 95% CL limit'"}],
      "mark": {"type": "line", "strokeWidth": 4.5, "strokeJoin": "round", "strokeCap": "round", "clip": true},
      "encoding": {
        "x": {"field": "m0", "type": "quantitative", "scale": {"domain": [50, 1150], "nice": false, "zero": false}, "axis": null},
        "y": {"field": "m12", "type": "quantitative", "scale": {"domain": [110, 425], "nice": false, "zero": false}, "axis": null},
        "order": {"field": "i"},
        "stroke": {"field": "curve", "type": "nominal", "scale": {"domain": ["Observed 95% CL limit", "Median expected limit", "Expected limit ±1σ", "CMS αT, 35pb⁻¹"], "range": ["#e3342a", "#3f52a0", "#3d4870", "#111111"]}},
        "strokeDash": {"field": "curve", "type": "nominal", "scale": {"domain": ["Observed 95% CL limit", "Median expected limit", "Expected limit ±1σ", "CMS αT, 35pb⁻¹"], "range": [[1, 0], [8, 4], [1.3, 2.2], [1, 0]]}}
      }
    },
    {
      "data": {"name": "greenline"},
      "mark": {"type": "line", "stroke": "#1c9a3e", "strokeWidth": 4, "clip": true},
      "encoding": {
        "x": {"field": "m0", "type": "quantitative", "scale": {"domain": [50, 1150], "nice": false, "zero": false}, "axis": null},
        "y": {"field": "m12", "type": "quantitative", "scale": {"domain": [110, 425], "nice": false, "zero": false}, "axis": null}
      }
    },
    {
      "data": {"name": "magline"},
      "mark": {"type": "line", "stroke": "#cc2ccc", "strokeWidth": 2.5, "clip": true},
      "encoding": {
        "x": {"field": "m0", "type": "quantitative", "scale": {"domain": [50, 1150], "nice": false, "zero": false}, "axis": null},
        "y": {"field": "m12", "type": "quantitative", "scale": {"domain": [110, 425], "nice": false, "zero": false}, "axis": null}
      }
    },
    {
      "data": {"name": "q800"},
      "mark": {"type": "text", "font": "Liberation Sans", "fontSize": 14, "fill": "#555", "angle": 58, "align": "center", "baseline": "middle"},
      "encoding": {
        "x": {"field": "m0", "type": "quantitative", "scale": {"domain": [50, 1150], "nice": false, "zero": false}, "axis": null},
        "y": {"field": "m12", "type": "quantitative", "scale": {"domain": [110, 425], "nice": false, "zero": false}, "axis": null},
        "text": {"field": "t"}
      }
    },
    {
      "data": {"name": "q600"},
      "mark": {"type": "text", "font": "Liberation Sans", "fontSize": 14, "fill": "#555", "angle": 52, "align": "center", "baseline": "middle"},
      "encoding": {
        "x": {"field": "m0", "type": "quantitative", "scale": {"domain": [50, 1150], "nice": false, "zero": false}, "axis": null},
        "y": {"field": "m12", "type": "quantitative", "scale": {"domain": [110, 425], "nice": false, "zero": false}, "axis": null},
        "text": {"field": "t"}
      }
    },
    {
      "data": {"name": "q400"},
      "mark": {"type": "text", "font": "Liberation Sans", "fontSize": 14, "fill": "#555", "angle": 40, "align": "center", "baseline": "middle"},
      "encoding": {
        "x": {"field": "m0", "type": "quantitative", "scale": {"domain": [50, 1150], "nice": false, "zero": false}, "axis": null},
        "y": {"field": "m12", "type": "quantitative", "scale": {"domain": [110, 425], "nice": false, "zero": false}, "axis": null},
        "text": {"field": "t"}
      }
    },
    {
      "data": {"name": "glab"},
      "mark": {"type": "text", "font": "Liberation Sans", "fontSize": 13, "fontWeight": "bold", "fill": "#777", "angle": 2, "align": "center", "baseline": "middle"},
      "encoding": {
        "x": {"field": "m0", "type": "quantitative", "scale": {"domain": [50, 1150], "nice": false, "zero": false}, "axis": null},
        "y": {"field": "m12", "type": "quantitative", "scale": {"domain": [110, 425], "nice": false, "zero": false}, "axis": null},
        "text": {"field": "t"}
      }
    },
    {
      "data": {"name": "tAtlas"},
      "mark": {"type": "text", "font": "Liberation Sans", "fontSize": 24, "fontWeight": "bold", "fontStyle": "italic", "fill": "#111", "align": "left", "baseline": "alphabetic"},
      "encoding": {
        "x": {"field": "m0", "type": "quantitative", "scale": {"domain": [50, 1150], "nice": false, "zero": false}, "axis": null},
        "y": {"field": "m12", "type": "quantitative", "scale": {"domain": [110, 425], "nice": false, "zero": false}, "axis": null},
        "text": {"field": "t"}
      }
    },
    {
      "data": {"name": "tPrelim"},
      "mark": {"type": "text", "font": "Liberation Sans", "fontSize": 24, "fontStyle": "italic", "fill": "#111", "align": "left", "baseline": "alphabetic"},
      "encoding": {
        "x": {"field": "m0", "type": "quantitative", "scale": {"domain": [50, 1150], "nice": false, "zero": false}, "axis": null},
        "y": {"field": "m12", "type": "quantitative", "scale": {"domain": [110, 425], "nice": false, "zero": false}, "axis": null},
        "text": {"field": "t"}
      }
    },
    {
      "data": {"name": "tSub"},
      "mark": {"type": "text", "font": "Liberation Sans", "fontSize": 16, "fill": "#222", "align": "left", "baseline": "alphabetic"},
      "encoding": {
        "x": {"field": "m0", "type": "quantitative", "scale": {"domain": [50, 1150], "nice": false, "zero": false}, "axis": null},
        "y": {"field": "m12", "type": "quantitative", "scale": {"domain": [110, 425], "nice": false, "zero": false}, "axis": null},
        "text": {"field": "t"}
      }
    },
    {
      "data": {"name": "tFlat"},
      "mark": {"type": "text", "font": "Liberation Sans Narrow, DejaVu Sans Condensed, sans-serif", "fontSize": 30, "fill": "#111", "align": "center", "baseline": "alphabetic"},
      "encoding": {
        "x": {"field": "m0", "type": "quantitative", "scale": {"domain": [50, 1150], "nice": false, "zero": false}, "axis": null},
        "y": {"field": "m12", "type": "quantitative", "scale": {"domain": [110, 425], "nice": false, "zero": false}, "axis": null},
        "text": {"field": "t"}
      }
    },
    {
      "data": {"name": "t0L"},
      "mark": {"type": "text", "font": "Lato", "fontSize": 40, "fill": "#111", "align": "left", "baseline": "alphabetic"},
      "encoding": {
        "x": {"field": "m0", "type": "quantitative", "scale": {"domain": [50, 1150], "nice": false, "zero": false}, "axis": null},
        "y": {"field": "m12", "type": "quantitative", "scale": {"domain": [110, 425], "nice": false, "zero": false}, "axis": null},
        "text": {"field": "t"}
      }
    },
    {
      "data": {"name": "tRef"},
      "mark": {"type": "text", "font": "Liberation Sans", "fontSize": 15, "fill": "#444", "align": "left", "baseline": "alphabetic"},
      "encoding": {
        "x": {"field": "m0", "type": "quantitative", "scale": {"domain": [50, 1150], "nice": false, "zero": false}, "axis": null},
        "y": {"field": "m12", "type": "quantitative", "scale": {"domain": [110, 425], "nice": false, "zero": false}, "axis": null},
        "text": {"field": "t"}
      }
    },
    {
      "data": {"name": "star"},
      "mark": {"type": "point", "shape": "M0,-1L0.235,-0.324L0.951,-0.309L0.38,0.124L0.588,0.809L0,0.4L-0.588,0.809L-0.38,0.124L-0.951,-0.309L-0.235,-0.324Z", "size": 144, "filled": true, "fill": "#333", "opacity": 1},
      "encoding": {
        "x": {"field": "m0", "type": "quantitative", "scale": {"domain": [50, 1150], "nice": false, "zero": false}, "axis": null},
        "y": {"field": "m12", "type": "quantitative", "scale": {"domain": [110, 425], "nice": false, "zero": false}, "axis": null}
      }
    },
    {
      "data": {"name": "ellipse"},
      "mark": {"type": "area", "orient": "horizontal", "fill": "#9dcfcf", "stroke": "#2f6e6e", "strokeWidth": 1.5, "opacity": 1, "clip": false},
      "encoding": {
        "y": {"field": "m12", "type": "quantitative", "scale": {"domain": [110, 425], "nice": false, "zero": false}, "axis": null},
        "x": {"field": "xl", "type": "quantitative", "scale": {"domain": [50, 1150], "nice": false, "zero": false}, "axis": null},
        "x2": {"field": "xr"}
      }
    },
    {
      "data": {"name": "arrow"},
      "mark": {"type": "line", "stroke": "#2f6e6e", "strokeWidth": 2, "clip": false},
      "encoding": {
        "x": {"field": "m0", "type": "quantitative", "scale": {"domain": [50, 1150], "nice": false, "zero": false}, "axis": null},
        "y": {"field": "m12", "type": "quantitative", "scale": {"domain": [110, 425], "nice": false, "zero": false}, "axis": null},
        "order": {"field": "i"}
      }
    },
    {
      "data": {"name": "arrowhead"},
      "mark": {"type": "point", "shape": "triangle-up", "size": 200, "angle": 232, "filled": true, "fill": "#2f6e6e", "opacity": 1, "clip": false},
      "encoding": {
        "x": {"field": "m0", "type": "quantitative", "scale": {"domain": [50, 1150], "nice": false, "zero": false}, "axis": null},
        "y": {"field": "m12", "type": "quantitative", "scale": {"domain": [110, 425], "nice": false, "zero": false}, "axis": null}
      }
    },
    {
      "data": {"name": "tBig"},
      "mark": {"type": "text", "font": "Liberation Sans", "fontSize": 60, "fill": "#000", "align": "left", "baseline": "alphabetic", "clip": false},
      "encoding": {
        "x": {"field": "m0", "type": "quantitative", "scale": {"domain": [50, 1150], "nice": false, "zero": false}, "axis": null},
        "y": {"field": "m12", "type": "quantitative", "scale": {"domain": [110, 425], "nice": false, "zero": false}, "axis": null},
        "text": {"field": "t"}
      }
    }
  ]
}
